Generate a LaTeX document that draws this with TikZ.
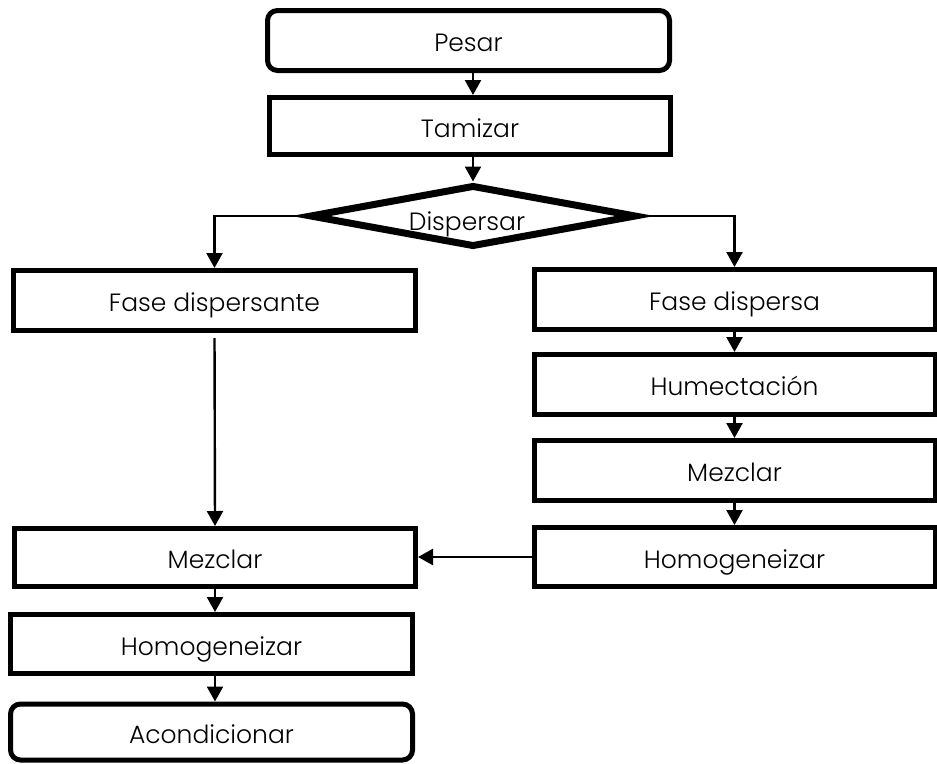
\documentclass[tikz,border=0pt]{standalone}
\usepackage{fontspec}
\IfFontExistsTF{Poppins Light}{\setmainfont{Poppins Light}}{\setmainfont{Poppins}}
\usetikzlibrary{shapes.geometric,arrows.meta}
\begin{document}
\begin{tikzpicture}[x=1pt,y=-1pt,
  box/.style={draw,line width=5pt,rectangle,inner sep=0pt,minimum width=401pt,minimum height=60pt,text height=22pt,text depth=0pt,font=\fontsize{25}{30}\selectfont},
  term/.style={box,rounded corners=10pt},
  decis/.style={draw,line width=7pt,diamond,inner sep=0pt,minimum width=327pt,minimum height=62pt,aspect=5},
  conn/.style={line width=2.4pt,-{Triangle[width=16pt,length=15pt]}},
  plain/.style={line width=2.4pt}]
\useasboundingbox (0,0) rectangle (937,763);
\node[term] (pesar) at (468.5,40.5) [minimum width=402pt] {Pesar};
\node[box] (tamizar) at (470,126) [minimum height=57pt] {Tamizar};
\node[decis] (disp) at (473,216) {};
\node[anchor=base,inner sep=0pt,font=\fontsize{25}{30}\selectfont] (disptxt) at (467,230) {Dispersar};
\node[box] (fdte) at (214.5,300.5) [minimum width=402pt] {Fase dispersante};
\node[box] (fda) at (734.5,299.5) {Fase dispersa};
\node[box] (hum) at (734.5,384.5) {Humectación};
\node[box] (mezR) at (734.5,470.5) {Mezclar};
\node[box] (homR) at (734.5,557) [minimum height=59pt] {Homogeneizar};
\node[box] (mezL) at (215,557.5) [minimum height=58pt] {Mezclar};
\node[box] (homL) at (211.5,644) [minimum width=402pt,minimum height=59pt] {Homogeneizar};
\node[term] (acond) at (211.5,732) [minimum width=402pt,minimum height=56pt] {Acondicionar};
\draw[conn] (pesar.south -| disp.north) -- (tamizar.north -| disp.north);
\draw[conn] (tamizar.south -| disp.north) -- (disp.north);
\draw[conn] (disp.west) -| (fdte.north);
\draw[conn] (disp.east) -| (fda.north);
\draw[conn] (fda) -- (hum);
\draw[conn] (hum) -- (mezR);
\draw[conn] (mezR) -- (homR);
\draw[conn] (homR.west) -- (homR.west -| mezL.east);
\draw[conn,shorten <=5pt] (fdte.south) -- (mezL.north);
\draw[conn] (mezL.south) -- (mezL.south |- homL.north);
\draw[conn] (homL.south -| mezL.south) -- (acond.north -| mezL.south);
\end{tikzpicture}
\end{document}
